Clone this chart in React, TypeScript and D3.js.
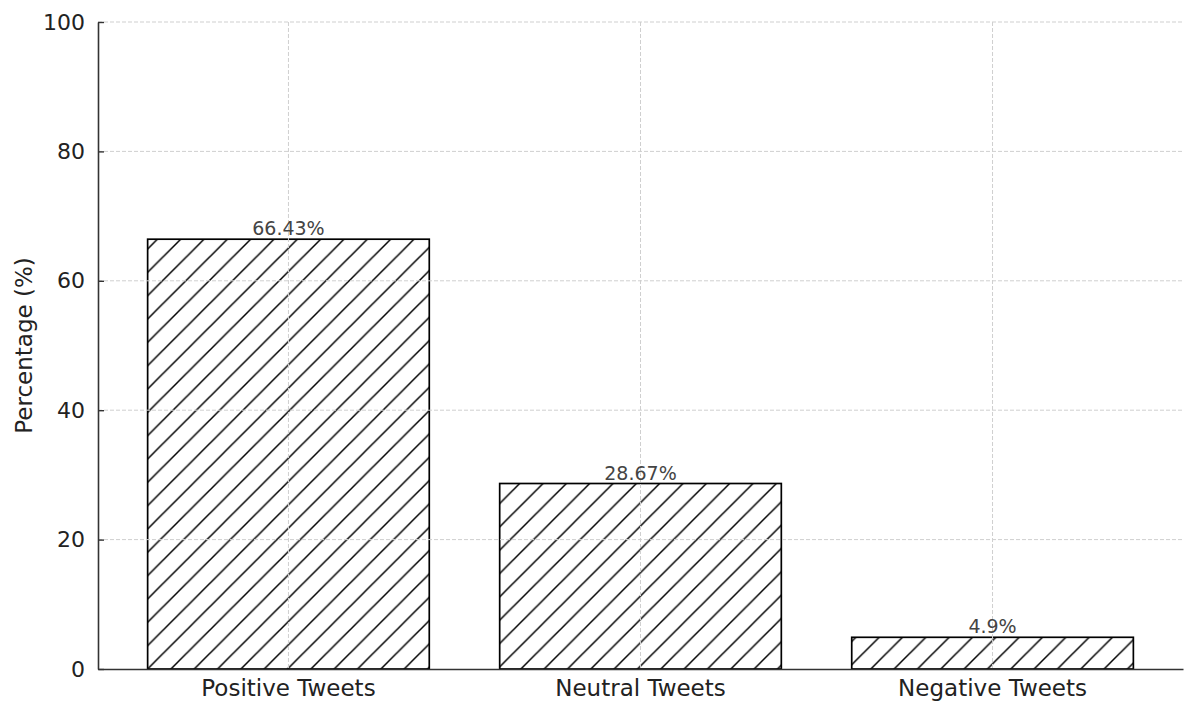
import React, { useEffect, useRef } from 'react';
import * as d3 from 'd3';

const categories: string[] = ['Positive Tweets', 'Neutral Tweets', 'Negative Tweets'];
const percentages: number[] = [66.43, 28.67, 4.9];
const valueLabels: string[] = ['66.43%', '28.67%', '4.9%'];
const yTicks: number[] = [0, 20, 40, 60, 80, 100];

const width = 1200;
const height = 716;
const FONT = '"DejaVu Sans", sans-serif';

const App: React.FC = () => {
  const svgRef = useRef<SVGSVGElement>(null);

  useEffect(() => {
    if (!svgRef.current) return;
    const svg = d3.select(svgRef.current);
    svg.selectAll('*').remove();

    const left = 98;
    const right = 1183;
    const top = 22;
    const bottom = 669;

    // categorical x scale, matplotlib-like padding
    const xScale = d3.scaleBand<string>()
      .domain(categories)
      .range([left, right])
      .paddingInner(0.2)
      .paddingOuter(0.141);

    const yScale = d3.scaleLinear().domain([0, 100]).range([bottom, top]);

    // hatch pattern
    const hs = 23.33;
    const defs = svg.append('defs');
    const pat = defs.append('pattern')
      .attr('id', 'hatch')
      .attr('patternUnits', 'userSpaceOnUse')
      .attr('width', hs)
      .attr('height', hs);
    pat.append('path')
      .attr('d', `M0,${hs} L${hs},0 M-2,2 L2,-2 M${hs - 2},${hs + 2} L${hs + 2},${hs - 2}`)
      .attr('stroke', '#000')
      .attr('stroke-width', 1.5);

    // bars
    svg.append('g')
      .selectAll('rect')
      .data(percentages)
      .enter()
      .append('rect')
      .attr('x', (_d, i) => xScale(categories[i]) || 0)
      .attr('y', d => yScale(d))
      .attr('width', xScale.bandwidth())
      .attr('height', d => bottom - yScale(d))
      .attr('fill', 'url(#hatch)')
      .attr('stroke', '#000')
      .attr('stroke-width', 1.7);

    // grid (drawn over bars)
    const grid = svg.append('g');
    grid.selectAll('line.h')
      .data(yTicks.filter(t => t > 0))
      .enter()
      .append('line')
      .attr('x1', left)
      .attr('x2', right)
      .attr('y1', d => yScale(d))
      .attr('y2', d => yScale(d))
      .attr('stroke', '#cfcfcf')
      .attr('stroke-width', 1)
      .attr('stroke-dasharray', '4,2');
    grid.selectAll('line.v')
      .data(categories)
      .enter()
      .append('line')
      .attr('x1', d => (xScale(d) || 0) + xScale.bandwidth() / 2)
      .attr('x2', d => (xScale(d) || 0) + xScale.bandwidth() / 2)
      .attr('y1', top)
      .attr('y2', bottom)
      .attr('stroke', '#cfcfcf')
      .attr('stroke-width', 1)
      .attr('stroke-dasharray', '4,2');

    // y axis
    const yAxis = svg.append('g')
      .attr('transform', `translate(${left},0)`)
      .call(d3.axisLeft(yScale).tickValues(yTicks).tickSizeInner(-6).tickSizeOuter(0).tickPadding(13));
    yAxis.select('.domain').attr('stroke', '#333').attr('stroke-width', 1.6);
    yAxis.selectAll('.tick line').attr('stroke', '#333').attr('stroke-width', 1.4);
    yAxis.selectAll('.tick text')
      .attr('fill', '#222')
      .style('font-family', FONT)
      .style('font-size', '22px');

    // x axis line
    const xAxis = svg.append('g')
      .attr('transform', `translate(0,${bottom})`)
      .call(d3.axisBottom(xScale).tickSize(0).tickPadding(11));
    xAxis.select('.domain').attr('stroke', '#333').attr('stroke-width', 1.6);
    xAxis.selectAll('.tick text')
      .attr('fill', '#222')
      .style('font-family', FONT)
      .style('font-size', '23px');

    // value labels
    svg.append('g')
      .selectAll('text')
      .data(percentages)
      .enter()
      .append('text')
      .attr('x', (_d, i) => (xScale(categories[i]) || 0) + xScale.bandwidth() / 2)
      .attr('y', d => yScale(d) - 4)
      .attr('text-anchor', 'middle')
      .attr('fill', '#444')
      .style('font-family', FONT)
      .style('font-size', '19px')
      .text((_d, i) => valueLabels[i]);

    // y label
    svg.append('text')
      .attr('transform', `translate(32,${(top + bottom) / 2}) rotate(-90)`)
      .attr('text-anchor', 'middle')
      .attr('fill', '#222')
      .style('font-family', FONT)
      .style('font-size', '23px')
      .text('Percentage (%)');
  }, []);

  return (
    <div style={{ position: 'absolute', left: 0, top: 0, background: '#fff' }}>
      <svg ref={svgRef} width={width} height={height} style={{ display: 'block' }}></svg>
    </div>
  );
};

export default App;
